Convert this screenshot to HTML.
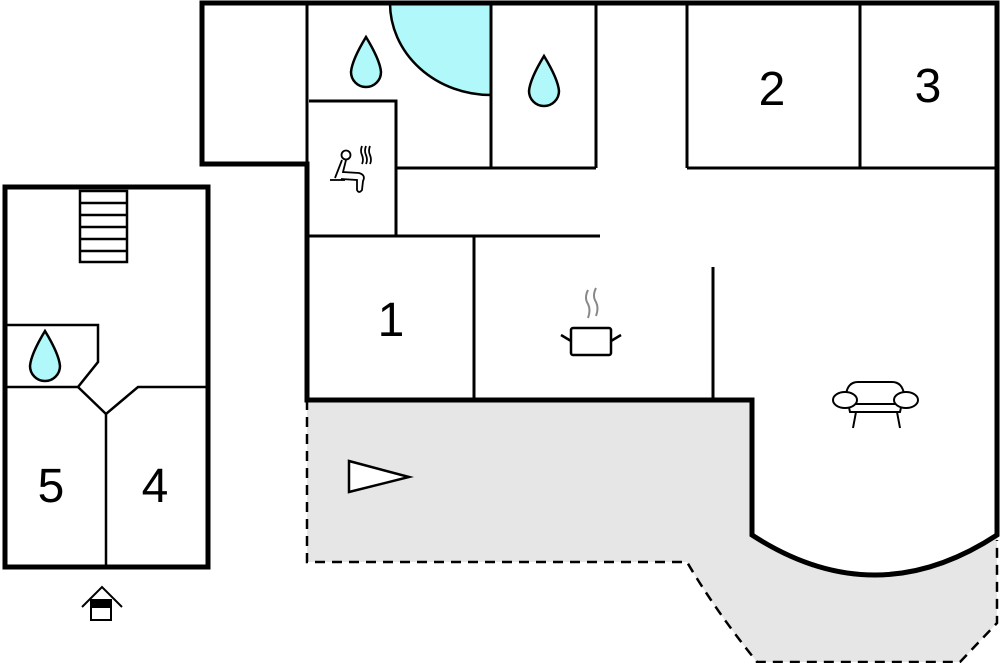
<!DOCTYPE html>
<html><head><meta charset="utf-8"><style>html,body{margin:0;padding:0;background:#fff}svg{display:block}</style></head>
<body>
<svg width="1000" height="663" viewBox="0 0 1000 663" xmlns="http://www.w3.org/2000/svg" font-family="Liberation Sans, sans-serif">
<!-- terrace -->
<path d="M307,400 L752,400 L752,535 Q875,615 997,535 L997,623 L960,662 L757,662 Q715,610 687,562 L307,562 Z" fill="#e6e6e6"/>
<path d="M307,400 L307,562 L687,562 Q715,610 757,662 L960,662 L997,623 L997,540" fill="none" stroke="#000" stroke-width="2.5" stroke-dasharray="10,7"/>
<!-- pool quarter -->
<path d="M390,3 A101,92 0 0 0 491,95 L491,3 Z" fill="#b0f8fa" stroke="#000" stroke-width="2.5"/>
<g stroke="#000" stroke-width="3" fill="none">
<line x1="307" y1="3" x2="307" y2="164"/>
<line x1="491" y1="3" x2="491" y2="168"/>
<line x1="596" y1="3" x2="596" y2="168"/>
<line x1="396" y1="168" x2="596" y2="168"/>
<path d="M309,101 L396,101 L396,236"/>
<line x1="307" y1="236" x2="600" y2="236"/>
<line x1="474" y1="236" x2="474" y2="400"/>
<line x1="713" y1="267" x2="713" y2="400"/>
<line x1="687" y1="3" x2="687" y2="168"/>
<line x1="687" y1="168" x2="997" y2="168"/>
<line x1="860" y1="3" x2="860" y2="168"/>
</g>
<!-- main outline -->
<path d="M202,3 L997,3 L997,535 Q875,615 752,535 L752,400 L307,400 L307,164 L202,164 Z" fill="none" stroke="#000" stroke-width="5" stroke-linejoin="miter"/>
<!-- left building -->
<rect x="5" y="187" width="203" height="380" fill="none" stroke="#000" stroke-width="5"/>
<g stroke="#000" stroke-width="2.5" fill="none">
<rect x="80" y="191" width="47" height="71"/>
<line x1="80" y1="203" x2="127" y2="203"/><line x1="80" y1="215" x2="127" y2="215"/><line x1="80" y1="227" x2="127" y2="227"/><line x1="80" y1="239" x2="127" y2="239"/><line x1="80" y1="251" x2="127" y2="251"/>
<path d="M5,325 L98,325 L98,362 L78,387 L5,387"/>
<path d="M78,387 L106,414 L138,387 L208,387"/>
<line x1="106" y1="414" x2="106" y2="567"/>
</g>
<!-- drops -->
<g fill="#b0f8fa" stroke="#000" stroke-width="2.5">
<path d="M366,37 Q352,60 351,72 A15,15 0 0 0 381,72 Q380,60 366,37 Z"/>
<path d="M544,56 Q530,79 529,91 A15,15 0 0 0 559,91 Q558,79 544,56 Z"/>
<path d="M45,331 Q31,354 30,366 A15,15 0 0 0 60,366 Q59,354 45,331 Z"/>
</g>
<!-- numbers -->
<g font-size="48" text-anchor="middle" fill="#000">
<text x="391" y="336">1</text>
<text x="772" y="105">2</text>
<text x="928" y="102">3</text>
<text x="51" y="502">5</text>
<text x="155" y="502">4</text>
</g>
<!-- triangle -->
<path d="M349,461 L409,477 L349,492 Z" fill="#fff" stroke="#000" stroke-width="2.5"/>
<!-- sauna icon -->
<g stroke="#000" stroke-width="1.8" fill="none">
<circle cx="346" cy="155" r="4.5"/>
<path d="M342,160 L335,178 M346,160 L343,172 L359,173 Q366,175 363,181 L362,190 Q359,194 357,190 L357,180 L341,179"/>
<line x1="330" y1="180" x2="345" y2="180"/>
<path d="M362,146 q-2,5 0,9 q2,5 0,9 M366,146 q-2,5 0,9 q2,5 0,9 M370,146 q-2,5 0,9 q2,5 0,9"/>
</g>
<!-- pot -->
<g stroke="#000" stroke-width="2.5" fill="#fff">
<rect x="571" y="328" width="40" height="27" rx="2"/>
<path d="M561,335 L571,341 M621,335 L611,341" fill="none"/>
</g>
<path d="M588,290 q-4,8 0,14 q3,6 0,14 M596,288 q-4,8 0,14 q3,6 0,14" stroke="#888" stroke-width="2" fill="none"/>
<!-- sofa -->
<g stroke="#000" stroke-width="2" fill="#fff">
<path d="M846,394 Q848,382 858,382 L892,382 Q902,382 904,394 L900,412 L850,412 Z"/>
<line x1="852" y1="404" x2="898" y2="404"/>
<ellipse cx="845" cy="400" rx="12" ry="8"/>
<ellipse cx="906" cy="400" rx="12" ry="8"/>
<path d="M856,412 L853,428 M897,412 L900,428" fill="none"/>
</g>
<!-- entrance icon -->
<g stroke="#000" stroke-width="2" fill="none">
<path d="M82,607 L102,587 L122,607"/>
<rect x="91" y="600" width="20" height="20" fill="#fff"/>
<rect x="91" y="600" width="20" height="7" fill="#000"/>
</g>
</svg>
</body></html>
